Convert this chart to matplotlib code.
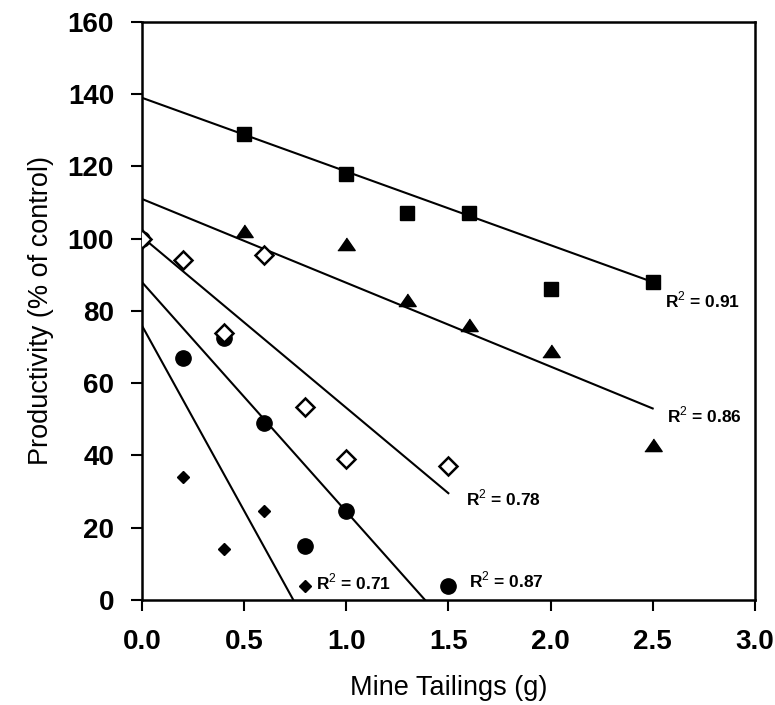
import matplotlib
matplotlib.use("Agg")
import matplotlib.pyplot as plt
import numpy as np

plt.rcParams['font.family'] = ['Liberation Sans', 'DejaVu Sans']
plt.rcParams['mathtext.fontset'] = 'custom'
plt.rcParams['mathtext.rm'] = 'Liberation Sans'
plt.rcParams['mathtext.bf'] = 'Liberation Sans:bold'

# Data
sq_x = [0.5, 1.0, 1.3, 1.6, 2.0, 2.5]
sq_y = [129, 118, 107, 107, 86, 88]
tri_x = [0.5, 1.0, 1.3, 1.6, 2.0, 2.5]
tri_y = [102, 98.5, 83, 76, 69, 43]
dia_x = [0.0, 0.2, 0.4, 0.6, 0.8, 1.0, 1.5]
dia_y = [100, 94, 74, 95.5, 53.5, 39, 37]
cir_x = [0.0, 0.2, 0.4, 0.6, 0.8, 1.0, 1.5]
cir_y = [100, 67, 72.5, 49, 15, 24.5, 4]
pl_x = [0.0, 0.2, 0.4, 0.6, 0.8]
pl_y = [100, 34, 14, 24.5, 4]

# Trend lines: intercept, slope, x-end
fit_intercepts = [139, 111, 100.5, 88, 76]
fit_slopes = [-20.4, -23.2, -47.3, -63.5, -102.5]
fit_xend = [2.5, 2.5, 1.5, 1.385, 0.74]

r2_labels = ["0.91", "0.86", "0.78", "0.87", "0.71"]
r2_x = [2.56, 2.57, 1.585, 1.6, 0.85]
r2_y = [83, 51.2, 28.3, 5.5, 5]

fig = plt.figure(figsize=(7.75, 7.05), dpi=100)
ax = fig.add_axes([0.183, 0.149, 0.791, 0.820])

for b, m, xe in zip(fit_intercepts, fit_slopes, fit_xend):
    xs = np.array([0.0, xe])
    ax.plot(xs, b + m * xs, color='black', lw=1.5, zorder=2)

flat_tri = [(-1.0, -0.7), (1.0, -0.7), (0.0, 0.75)]

ax.plot(sq_x, sq_y, 's', color='black', ms=10.5, zorder=3)
ax.plot(tri_x, tri_y, marker=flat_tri, ls='none', color='black', ms=12.5, zorder=3)
ax.plot(cir_x, cir_y, 'o', color='black', ms=11, zorder=3)
ax.plot(pl_x, pl_y, 'D', color='black', ms=6, zorder=3)
ax.plot(dia_x, dia_y, 'D', mfc='white', mec='black', mew=1.8, ms=9, zorder=4)

for lab, tx, ty in zip(r2_labels, r2_x, r2_y):
    ax.text(tx, ty, "R$^2$ = " + lab, fontsize=12.5, fontweight='bold',
            ha='left', va='center', zorder=5)

ax.set_xlim(0, 3.0)
ax.set_ylim(0, 160)
ax.set_xticks(np.arange(0, 3.01, 0.5))
ax.set_xticklabels([f"{v:.1f}" for v in np.arange(0, 3.01, 0.5)])
ax.set_yticks(np.arange(0, 161, 20))

for sp in ax.spines.values():
    sp.set_linewidth(1.8)

ax.tick_params(axis='both', direction='out', length=8, width=1.5,
               labelsize=20)
ax.tick_params(axis='x', pad=13)
ax.tick_params(axis='y', pad=12)
for lbl in ax.get_xticklabels() + ax.get_yticklabels():
    lbl.set_fontweight('bold')

ax.set_xlabel("Mine Tailings (g)", fontsize=19.5, labelpad=14)
ax.set_ylabel("Productivity (% of control)", fontsize=19.5, labelpad=10)

fig.savefig("out.png", dpi=100)
